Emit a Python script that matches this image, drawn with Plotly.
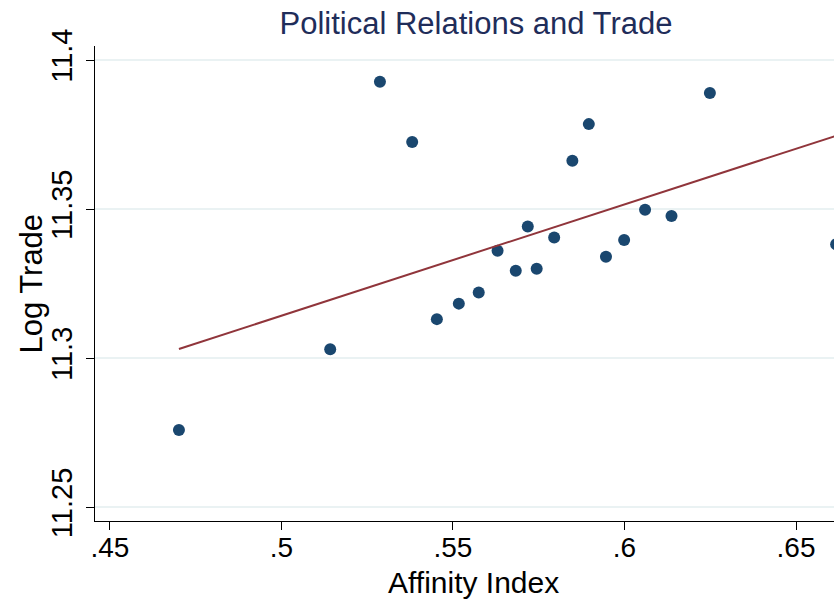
import plotly.graph_objects as go

# Data
affinity = [0.4701, 0.5142, 0.5287, 0.5381, 0.5453, 0.5517, 0.5575, 0.5630,
            0.5683, 0.5718, 0.5744, 0.5795, 0.5848, 0.5896, 0.5946, 0.5999,
            0.6060, 0.6137, 0.6249, 0.6617]
log_trade = [11.2759, 11.3030, 11.3927, 11.3725, 11.3131, 11.3183, 11.3220, 11.3360,
             11.3293, 11.3442, 11.3300, 11.3405, 11.3662, 11.3785, 11.3340, 11.3396,
             11.3498, 11.3477, 11.3889, 11.3382]
fit_x = [0.4701, 0.6617]
fit_y = [11.3031, 11.3746]

x_ticks = [0.45, 0.5, 0.55, 0.6, 0.65]
x_tick_labels = [".45", ".5", ".55", ".6", ".65"]
y_ticks = [11.25, 11.3, 11.35, 11.4]
y_tick_labels = ["11.25", "11.3", "11.35", "11.4"]

navy = "#1a476f"
title_navy = "#1f2d5a"
maroon = "#90353b"
grid = "#eaf2f3"
font = "Liberation Sans, Arial, sans-serif"

fig = go.Figure()
fig.add_trace(go.Scatter(x=affinity, y=log_trade, mode="markers",
                         marker=dict(color=navy, size=12, line=dict(width=0)),
                         showlegend=False))
fig.add_trace(go.Scatter(x=fit_x, y=fit_y, mode="lines",
                         line=dict(color=maroon, width=2),
                         showlegend=False))

fig.update_layout(
    width=834, height=602,
    margin=dict(l=95, r=0, t=46, b=81),
    paper_bgcolor="white", plot_bgcolor="white",
    font=dict(family=font, color="black", size=28),
    title=dict(text="Political Relations and Trade", x=476/834, xanchor="center",
               xref="container", y=1 - 23/602, yanchor="middle", yref="container",
               font=dict(size=31, color=title_navy, family=font)),
    annotations=[
        dict(text="Log Trade", xref="paper", yref="paper", x=-64/739, y=0.5,
             xanchor="center", yanchor="middle", textangle=-90, showarrow=False,
             font=dict(size=31, color="black", family=font)),
        dict(text="Affinity Index", xref="paper", yref="paper", x=(473-95)/739,
             y=-(582-521)/475, xanchor="center", yanchor="middle", showarrow=False,
             font=dict(size=30, color="black", family=font)),
    ],
)
fig.update_xaxes(range=[0.44563, 0.66108], tickvals=x_ticks, ticktext=x_tick_labels,
                 showgrid=False, zeroline=False, showline=True, linecolor="black",
                 linewidth=1.2, ticks="outside", ticklen=8, tickcolor="black",
                 tickfont=dict(size=28), ticklabelstandoff=-7)
fig.update_yaxes(range=[11.2454, 11.4047], tickvals=y_ticks, ticktext=y_tick_labels,
                 showgrid=True, gridcolor=grid, gridwidth=1.5, zeroline=False,
                 showline=True, linecolor="black", linewidth=1.2,
                 ticks="outside", ticklen=8, tickcolor="black",
                 tickangle=-90, tickfont=dict(size=29), ticklabelstandoff=2)

fig.write_html("out.html", config={"displayModeBar": False},
               post_script="document.body.style.margin='0';")
